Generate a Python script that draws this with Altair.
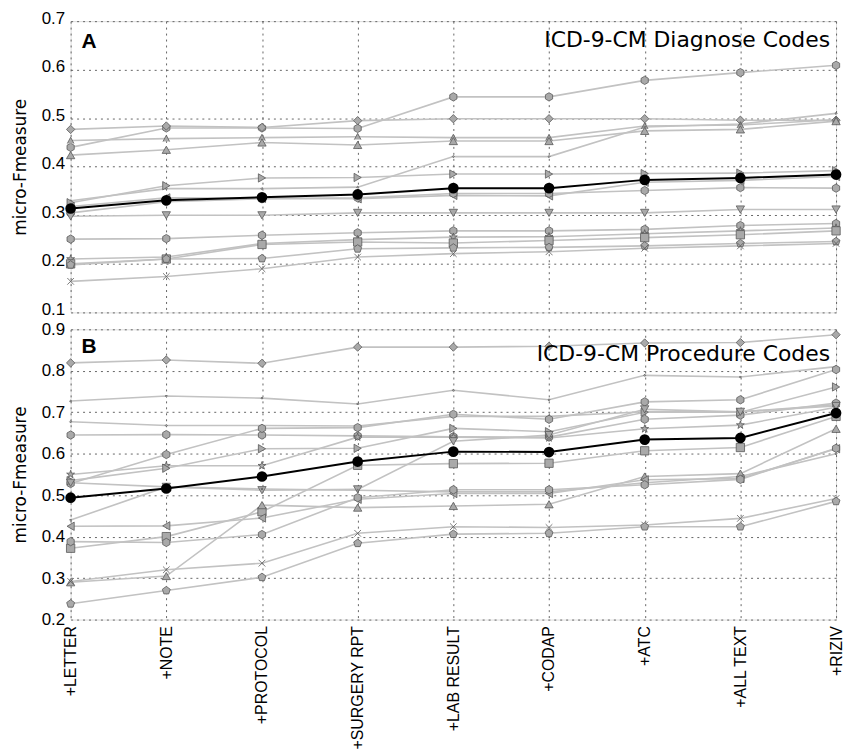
import altair as alt
import pandas as pd

categories = ["+LETTER", "+NOTE", "+PROTOCOL", "+SURGERY RPT", "+LAB RESULT",
              "+CODAP", "+ATC", "+ALL TEXT", "+RIZIV"]

HEX = "M0,-1L0.866,-0.5L0.866,0.5L0,1L-0.866,0.5L-0.866,-0.5Z"
PENT = "M0,-1L0.951,-0.309L0.588,0.809L-0.588,0.809L-0.951,-0.309Z"
STAR = ("M0,-1L0.225,-0.309L0.951,-0.309L0.363,0.118L0.588,0.809L0,0.382"
        "L-0.588,0.809L-0.363,0.118L-0.951,-0.309L-0.225,-0.309Z")
XMARK = "M-0.8,-0.8L0.8,0.8M-0.8,0.8L0.8,-0.8"
CARET = "M-0.8,0.7L0,-0.8L0.8,0.7"
DOT = "M-0.25,0L0,-0.25L0.25,0L0,0.25Z"

# Panel A: ICD-9-CM Diagnose Codes
A_hex_top = [0.440, 0.480, 0.480, 0.479, 0.544, 0.544, 0.578, 0.594, 0.609]
A_diamond = [0.477, 0.484, 0.481, 0.495, 0.499, 0.499, 0.499, 0.496, 0.496]
A_caret = [0.454, 0.458, 0.460, 0.462, 0.460, 0.460, 0.484, 0.486, 0.497]
A_tri_up = [0.424, 0.435, 0.450, 0.445, 0.453, 0.453, 0.474, 0.477, 0.494]
A_dot = [0.330, 0.355, 0.355, 0.358, 0.421, 0.421, 0.482, 0.488, 0.510]
A_tri_right = [0.326, 0.361, 0.377, 0.378, 0.385, 0.385, 0.386, 0.387, 0.392]
A_tri_left = [0.318, 0.336, 0.335, 0.334, 0.341, 0.340, 0.368, 0.372, 0.380]
A_hex_mid = [0.305, 0.328, 0.334, 0.336, 0.345, 0.345, 0.351, 0.357, 0.356]
A_tri_down = [0.298, 0.300, 0.300, 0.305, 0.305, 0.305, 0.305, 0.312, 0.312]
A_hex_low = [0.251, 0.252, 0.259, 0.264, 0.268, 0.268, 0.271, 0.279, 0.283]
A_star = [0.210, 0.214, 0.242, 0.250, 0.255, 0.256, 0.262, 0.268, 0.274]
A_square = [0.200, 0.210, 0.240, 0.245, 0.243, 0.248, 0.254, 0.260, 0.268]
A_pent = [0.198, 0.210, 0.211, 0.231, 0.233, 0.234, 0.237, 0.242, 0.246]
A_x = [0.164, 0.174, 0.190, 0.214, 0.221, 0.225, 0.232, 0.237, 0.242]
A_mean = [0.314, 0.331, 0.337, 0.343, 0.356, 0.356, 0.373, 0.377, 0.384]

# Panel B: ICD-9-CM Procedure Codes
B_diamond = [0.819, 0.826, 0.818, 0.857, 0.857, 0.859, 0.867, 0.868, 0.887]
B_plus = [0.727, 0.739, 0.734, 0.720, 0.753, 0.730, 0.789, 0.785, 0.810]
B_line = [0.677, 0.668, 0.668, 0.667, 0.690, 0.690, 0.701, 0.701, 0.718]
B_hex1 = [0.645, 0.646, 0.645, 0.643, 0.641, 0.640, 0.683, 0.693, 0.722]
B_hex2 = [0.528, 0.598, 0.661, 0.663, 0.695, 0.683, 0.725, 0.730, 0.803]
B_star = [0.550, 0.571, 0.571, 0.640, 0.640, 0.638, 0.660, 0.669, 0.712]
B_tri_right = [0.535, 0.565, 0.612, 0.613, 0.661, 0.653, 0.700, 0.700, 0.761]
B_tri_down = [0.530, 0.520, 0.512, 0.514, 0.630, 0.645, 0.707, 0.701, 0.715]
B_dot = [0.440, 0.520, 0.515, 0.512, 0.508, 0.508, 0.530, 0.545, 0.600]
B_square = [0.372, 0.400, 0.460, 0.572, 0.576, 0.577, 0.607, 0.615, 0.690]
B_tri_up = [0.290, 0.305, 0.476, 0.470, 0.474, 0.478, 0.545, 0.552, 0.660]
B_tri_left = [0.425, 0.426, 0.445, 0.490, 0.504, 0.504, 0.537, 0.540, 0.612]
B_hex_low = [0.388, 0.386, 0.405, 0.494, 0.513, 0.513, 0.525, 0.538, 0.613]
B_x = [0.292, 0.320, 0.336, 0.408, 0.424, 0.422, 0.428, 0.444, 0.492]
B_pent = [0.238, 0.270, 0.302, 0.384, 0.406, 0.408, 0.424, 0.424, 0.485]
B_mean = [0.494, 0.516, 0.545, 0.581, 0.605, 0.604, 0.634, 0.638, 0.698]

A_series = [
    ("hex_top", A_hex_top, HEX), ("diamond", A_diamond, "diamond"),
    ("caret", A_caret, CARET), ("tri_up", A_tri_up, "triangle-up"),
    ("dot", A_dot, DOT), ("tri_right", A_tri_right, "triangle-right"),
    ("tri_left", A_tri_left, "triangle-left"), ("hex_mid", A_hex_mid, HEX),
    ("tri_down", A_tri_down, "triangle-down"), ("hex_low", A_hex_low, HEX),
    ("star", A_star, STAR), ("square", A_square, "square"),
    ("pent", A_pent, PENT), ("x", A_x, XMARK),
]
B_series = [
    ("diamond", B_diamond, "diamond"), ("plus", B_plus, DOT),
    ("line", B_line, DOT), ("hex1", B_hex1, HEX), ("hex2", B_hex2, HEX),
    ("star", B_star, STAR), ("tri_right", B_tri_right, "triangle-right"),
    ("tri_down", B_tri_down, "triangle-down"), ("dot", B_dot, DOT),
    ("square", B_square, "square"), ("tri_up", B_tri_up, "triangle-up"),
    ("tri_left", B_tri_left, "triangle-left"), ("hex_low", B_hex_low, HEX),
    ("x", B_x, XMARK), ("pent", B_pent, PENT),
]


def to_df(series):
    rows = []
    for name, vals, shp in series:
        for c, v in zip(categories, vals):
            rows.append({"series": name, "cat": c, "val": v, "shape": shp})
    return pd.DataFrame(rows)


GRID = dict(grid=True, gridColor="#555555", gridDash=[2, 4], gridWidth=1, gridOpacity=0.9)
W = 770


def panel(series, mean, lo, hi, ticks, letter, title, show_x, H, ly, ty, loff):
    df = to_df(series)
    mdf = pd.DataFrame({"cat": categories, "val": mean})
    if show_x:
        xaxis = alt.Axis(title=None, labelAngle=-90, labelFont="Liberation Sans",
                         labelFontSize=16, labelColor="#000", ticks=False,
                         domain=False, labelPadding=6, **GRID)
    else:
        xaxis = alt.Axis(title=None, labels=False, ticks=False, domain=False, **GRID)
    x = alt.X("cat:N", sort=categories, scale=alt.Scale(domain=categories, padding=0),
              axis=xaxis)
    y = alt.Y("val:Q", scale=alt.Scale(domain=[lo, hi], nice=False, zero=False),
              axis=alt.Axis(values=ticks, format=".1f", title="micro-Fmeasure",
                            titleFont="DejaVu Sans", titleFontSize=17,
                            titleFontWeight="normal", titleColor="#000",
                            titlePadding=12, labelFont="Liberation Sans",
                            labelFontSize=17, labelColor="#000", labelPadding=6,
                            labelOffset=loff, ticks=False, domain=False, **GRID))
    lines = alt.Chart(df).mark_line(color="#c2c2c2", strokeWidth=1.6).encode(
        x=x, y=y, detail="series:N")
    pts = alt.Chart(df).mark_point(filled=True, fill="#a9a9a9", stroke="#5a5a5a",
                                   strokeWidth=0.8, size=70, opacity=1).encode(
        x=x, y=y, shape=alt.Shape("shape:N", scale=None))
    mline = alt.Chart(mdf).mark_line(color="#000", strokeWidth=2).encode(x=x, y=y)
    mpts = alt.Chart(mdf).mark_point(filled=True, color="#000", size=115,
                                     opacity=1).encode(x=x, y=y)
    lab = alt.Chart(pd.DataFrame({"t": [letter]})).mark_text(
        font="Liberation Sans", fontWeight="bold", fontSize=21, align="left",
        baseline="alphabetic", color="#000").encode(
        text="t:N", x=alt.value(11), y=alt.value(ly))
    ttl = alt.Chart(pd.DataFrame({"t": [title]})).mark_text(
        font="DejaVu Sans", fontSize=22, align="right", baseline="alphabetic",
        color="#000").encode(text="t:N", x=alt.value(W - 6), y=alt.value(ty))
    return alt.layer(lines, pts, mline, mpts, lab, ttl).properties(width=W, height=H)


top = panel(A_series, A_mean, 0.1, 0.7, [0.1, 0.2, 0.3, 0.4, 0.5, 0.6, 0.7],
            "A", "ICD-9-CM Diagnose Codes", False, 293, 27, 26, -3)
bottom = panel(B_series, B_mean, 0.2, 0.9, [0.2, 0.3, 0.4, 0.5, 0.6, 0.7, 0.8, 0.9],
               "B", "ICD-9-CM Procedure Codes", True, 292, 24, 32, 0)

chart = alt.vconcat(top, bottom, spacing=17, bounds="flush").properties(
    padding={"left": 2, "top": -2, "right": 0, "bottom": 0}
).configure_view(stroke="#222222", strokeWidth=1.8).configure(background="white")

chart.save("out.html", embed_options={"renderer": "svg", "actions": False})
